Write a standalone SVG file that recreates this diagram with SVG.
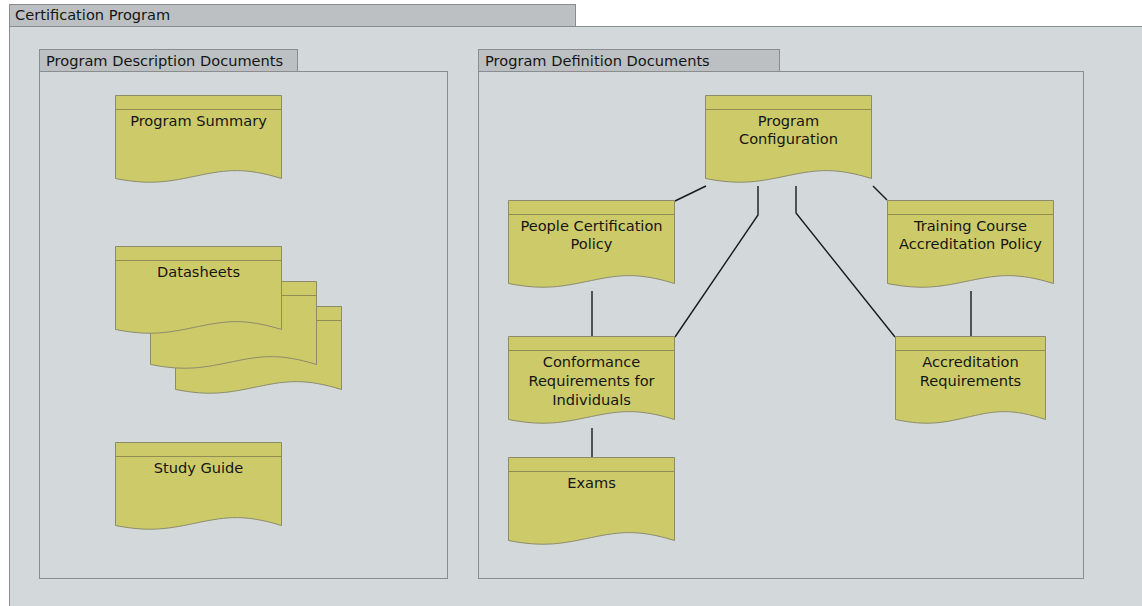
<svg xmlns="http://www.w3.org/2000/svg" width="1142" height="606" viewBox="0 0 1142 606">
  <defs>
    <style>
      .tab { fill: #bcc0c2; stroke: #8a8d8f; stroke-width: 1; }
      .body { fill: #d3d9da; stroke: #8a8d8f; stroke-width: 1; }
      .title { font-family: "DejaVu Sans", "Liberation Sans", sans-serif; font-size: 14.6px; fill: #151515; }
      .doc { fill: #cdcb69; stroke: #8c8b6c; stroke-width: 1; }
      .hdr { stroke: #8f8d52; stroke-width: 1; }
      .label { font-family: "DejaVu Sans", "Liberation Sans", sans-serif; font-size: 14.6px; fill: #151515; text-anchor: middle; }
      .conn { stroke: #1a1a1a; stroke-width: 1.4; fill: none; }
    </style>
    <!-- document shape with wavy bottom, 166 wide -->
    <path id="docShape" d="M0,0 H166 V83 C130,72 112,74 83,80 C54,86 36,90 0,83 Z"/>
  </defs>

  <rect x="0" y="0" width="1142" height="606" fill="#ffffff"/>

  <!-- outer package -->
  <g id="certification-program">
    <rect class="tab" x="9.5" y="4.5" width="566" height="22"/>
    <rect class="body" x="9.5" y="26.5" width="1140" height="590"/>
    <text class="title" x="15" y="20">Certification Program</text>
  </g>

  <!-- left package -->
  <g id="description-docs">
    <rect class="body" x="39.5" y="71.5" width="408" height="507"/>
    <rect class="tab" x="39.5" y="49.5" width="258" height="22"/>
    <text class="title" x="46" y="66">Program Description Documents</text>
  </g>

  <!-- right package -->
  <g id="definition-docs">
    <rect class="body" x="478.5" y="71.5" width="605" height="507"/>
    <rect class="tab" x="478.5" y="49.5" width="301" height="22"/>
    <text class="title" x="485" y="66">Program Definition Documents</text>
  </g>

  <!-- connectors -->
  <g id="connectors">
    <line class="conn" x1="706" y1="186" x2="675" y2="201"/>
    <polyline class="conn" points="758,186 758,215 675,337"/>
    <polyline class="conn" points="796,186 796,213 895,337"/>
    <line class="conn" x1="873" y1="186" x2="887" y2="200"/>
    <line class="conn" x1="592" y1="291" x2="592" y2="337"/>
    <line class="conn" x1="971" y1="291" x2="971" y2="336"/>
    <line class="conn" x1="592" y1="428" x2="592" y2="458"/>
  </g>

  <!-- documents -->
  <g id="program-summary" transform="translate(115.5,95.5)">
    <use href="#docShape" class="doc"/>
    <line class="hdr" x1="0" y1="14" x2="166" y2="14"/>
    <text class="label" x="83" y="30">Program Summary</text>
  </g>

  <g id="datasheets">
    <g transform="translate(175.5,306.5)">
      <use href="#docShape" class="doc"/>
      <line class="hdr" x1="0" y1="14" x2="166" y2="14"/>
    </g>
    <g transform="translate(150.5,281.5)">
      <use href="#docShape" class="doc"/>
      <line class="hdr" x1="0" y1="14" x2="166" y2="14"/>
    </g>
    <g transform="translate(115.5,246.5)">
      <use href="#docShape" class="doc"/>
      <line class="hdr" x1="0" y1="14" x2="166" y2="14"/>
      <text class="label" x="83" y="30">Datasheets</text>
    </g>
  </g>

  <g id="study-guide" transform="translate(115.5,442.5)">
    <use href="#docShape" class="doc"/>
    <line class="hdr" x1="0" y1="14" x2="166" y2="14"/>
    <text class="label" x="83" y="30">Study Guide</text>
  </g>

  <g id="program-configuration" transform="translate(705.5,95.5)">
    <use href="#docShape" class="doc"/>
    <line class="hdr" x1="0" y1="14" x2="166" y2="14"/>
    <text class="label" x="83" y="30">Program</text>
    <text class="label" x="83" y="48">Configuration</text>
  </g>

  <g id="people-certification-policy" transform="translate(508.5,200.5)">
    <use href="#docShape" class="doc"/>
    <line class="hdr" x1="0" y1="14" x2="166" y2="14"/>
    <text class="label" x="83" y="30">People Certification</text>
    <text class="label" x="83" y="48">Policy</text>
  </g>

  <g id="training-course-accreditation-policy" transform="translate(887.5,200.5)">
    <use href="#docShape" class="doc"/>
    <line class="hdr" x1="0" y1="14" x2="166" y2="14"/>
    <text class="label" x="83" y="30">Training Course</text>
    <text class="label" x="83" y="48">Accreditation Policy</text>
  </g>

  <g id="conformance-requirements" transform="translate(508.5,336.5)">
    <use href="#docShape" class="doc"/>
    <line class="hdr" x1="0" y1="14" x2="166" y2="14"/>
    <text class="label" x="83" y="30">Conformance</text>
    <text class="label" x="83" y="49">Requirements for</text>
    <text class="label" x="83" y="68">Individuals</text>
  </g>

  <g id="exams" transform="translate(508.5,457.5)">
    <use href="#docShape" class="doc"/>
    <line class="hdr" x1="0" y1="14" x2="166" y2="14"/>
    <text class="label" x="83" y="30">Exams</text>
  </g>

  <g id="accreditation-requirements" transform="translate(895.5,336.5)">
    <path class="doc" d="M0,0 H150 V83 C117,72 101,74 75,80 C49,86 33,90 0,83 Z"/>
    <line class="hdr" x1="0" y1="14" x2="150" y2="14"/>
    <text class="label" x="75" y="30">Accreditation</text>
    <text class="label" x="75" y="49">Requirements</text>
  </g>
</svg>
